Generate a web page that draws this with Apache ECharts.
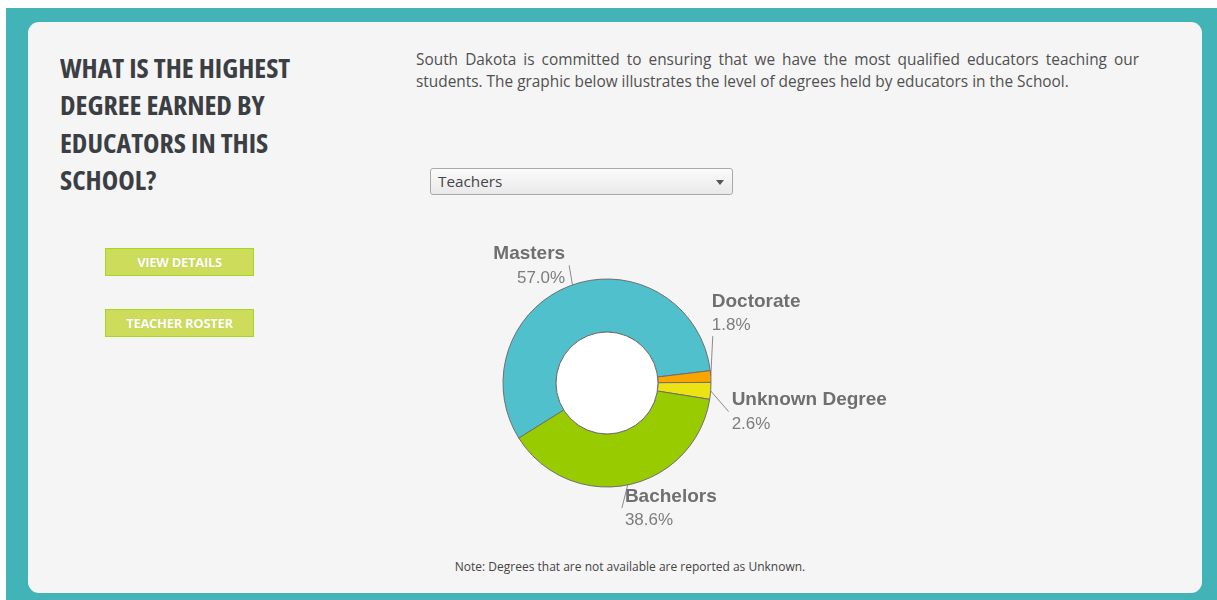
<!DOCTYPE html>
<html>
<head>
<meta charset="utf-8">
<script src="https://cdn.jsdelivr.net/npm/echarts@6/dist/echarts.min.js"></script>
<style>
  html, body { margin:0; padding:0; width:1217px; height:600px; background:#ffffff; overflow:hidden; }
  #frame { position:absolute; left:6px; top:8px; width:1211px; height:592px; background:#42b3b6; }
  #card { position:absolute; left:28px; top:22px; width:1174px; height:571px; background:#f5f5f5; border-radius:11px; }
  #title { position:absolute; left:60px; top:50px; width:320px; font-family:"Open Sans",sans-serif; font-stretch:75%; font-weight:bold; font-size:26.5px; line-height:37.3px; color:#3b3f44; transform:scaleX(1.05); transform-origin:0 0; }
  .btn { position:absolute; left:105px; width:147px; height:26px; background:#cddd5b; border:1px solid #a6d524; color:#fff; font-family:"Open Sans",sans-serif; font-weight:bold; font-size:13px; line-height:26px; text-align:center; text-shadow:0 0 1px rgba(120,140,20,0.35); letter-spacing:-0.3px; }
  #para { position:absolute; left:416px; top:49px; width:723px; font-family:"Open Sans",sans-serif; font-size:15.4px; line-height:22px; color:#505050; }
  #para .l1 { text-align:justify; text-align-last:justify; white-space:nowrap; }
  #select { position:absolute; left:430px; top:168px; width:301px; height:25px; border:1px solid #a9a9a9; border-radius:3px; background:linear-gradient(#fbfbfb,#e9e9e9); font-family:"Open Sans",sans-serif; font-size:15.3px; line-height:25px; color:#454545; box-sizing:content-box; }
  #select span { position:absolute; left:7px; top:0; }
  #select i { position:absolute; right:8px; top:11px; width:0; height:0; border-left:4px solid transparent; border-right:4px solid transparent; border-top:5px solid #555; }
  #note { position:absolute; left:330px; top:558px; width:600px; text-align:center; font-family:"Open Sans",sans-serif; font-size:12px; color:#444; }
  #chart { position:absolute; left:0; top:0; width:1217px; height:600px; }
</style>
</head>
<body>
<div id="frame"></div>
<div id="card"></div>
<div id="title">WHAT IS THE HIGHEST<br>DEGREE EARNED BY<br>EDUCATORS IN THIS<br>SCHOOL?</div>
<div class="btn" style="top:248px">VIEW DETAILS</div>
<div class="btn" style="top:309px">TEACHER ROSTER</div>
<div id="para"><div class="l1">South Dakota is committed to ensuring that we have the most qualified educators teaching our</div><div>students. The graphic below illustrates the level of degrees held by educators in the School.</div></div>
<div id="select"><span>Teachers</span><i></i></div>
<div id="note">Note: Degrees that are not available are reported as Unknown.</div>
<div id="chart"></div>
<script>
// ---- data ----
const categories = ['Masters', 'Doctorate', 'Unknown Degree', 'Bachelors'];
const percents = [57.0, 1.8, 2.6, 38.6];
const sliceColors = ['#50c0cc', '#fca500', '#eee312', '#99cc00'];
// label nudges and connector anchors (style only)
const labelShift = [[0, -4], [-17, -62], [3, 20], [-8, 8]];
const labelAnchor = ['right', 'bottom', 'left', 'left'];

const chart = echarts.init(document.getElementById('chart'), null, { renderer: 'canvas' });
chart.setOption({
  backgroundColor: 'transparent',
  animation: false,
  series: [
    {
      type: 'pie',
      center: [607, 383],
      radius: [51, 104],
      startAngle: 212,
      clockwise: true,
      avoidLabelOverlap: false,
      data: categories.map((c, i) => ({ name: c, value: percents[i], itemStyle: { color: sliceColors[i] } })),
      itemStyle: { borderColor: '#6e6e6e', borderWidth: 1 },
      label: {
        show: true,
        position: 'outside',
        formatter: p => '{n|' + p.name + '}\n{p|' + p.value.toFixed(1) + '%}',
        rich: {
          n: { fontFamily: 'Liberation Sans, Arial, sans-serif', fontWeight: 'bold', fontSize: 19, color: '#6f6f6f', lineHeight: 24 },
          p: { fontFamily: 'Liberation Sans, Arial, sans-serif', fontSize: 17, color: '#7d7d7d', lineHeight: 24 }
        },
        distanceToLabelLine: 2
      },
      labelLine: { show: true, length: 16, length2: 0, lineStyle: { color: '#8a8a8a', width: 1 } },
      labelLayout: p => {
        const s = labelShift[p.dataIndex];
        const r = p.labelRect;
        const x = r.x + s[0], y = r.y + s[1];
        const p0 = p.labelLinePoints ? p.labelLinePoints[0] : [x, y];
        let end;
        const a = labelAnchor[p.dataIndex];
        if (a === 'right') end = [x + r.width + 4, y + r.height * 0.5];
        else if (a === 'bottom') end = [x + 1, y + r.height + 2];
        else end = [x - 3, y + r.height * 0.5];
        return { dx: s[0], dy: s[1], labelLinePoints: [p0, end] };
      },
      emphasis: { disabled: true }
    },
    {
      type: 'pie',
      center: [607, 383],
      radius: [0, 51],
      silent: true,
      label: { show: false },
      labelLine: { show: false },
      itemStyle: { color: '#ffffff', borderColor: '#6e6e6e', borderWidth: 1 },
      data: [{ name: 'hole', value: 1 }]
    }
  ]
});
</script>
</body>
</html>
